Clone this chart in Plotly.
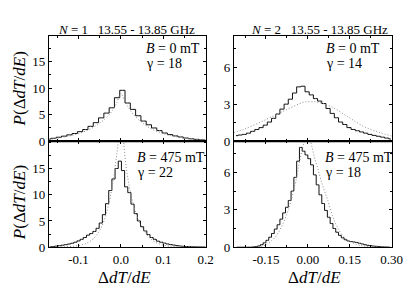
import plotly.graph_objects as go

FONT = "Liberation Serif"

# ---------------- data ----------------
# N=1, B=0 mT histogram (bin centres / values)
tl_x = [-0.1715, -0.159, -0.1465, -0.134, -0.1215, -0.109, -0.0965, -0.084, -0.0715, -0.059,
        -0.0465, -0.034, -0.0215, -0.009, 0.0035, 0.016, 0.0285, 0.041, 0.0535, 0.066,
        0.0785, 0.091, 0.1035, 0.116, 0.1285, 0.141, 0.1535, 0.166, 0.1785, 0.191, 0.2035]
tl_y = [0.4, 0.55, 0.75, 0.95, 1.2, 1.45, 1.8, 2.2, 2.8, 3.5,
        4.4, 5.3, 6.3, 8.2, 9.6, 7.2, 6.0, 4.8, 3.8, 3.1,
        2.5, 2.0, 1.55, 1.25, 1.0, 0.8, 0.6, 0.45, 0.35, 0.25, 0.2]
tl_fx = [-0.17, -0.15, -0.13, -0.11, -0.09, -0.07, -0.05, -0.03, -0.02, -0.01, 0.0,
         0.01, 0.02, 0.03, 0.05, 0.07, 0.09, 0.11, 0.13, 0.15, 0.17, 0.2]
tl_fy = [0.3, 0.55, 0.85, 1.2, 1.7, 2.4, 3.4, 4.8, 5.8, 7.2, 9.0,
         7.4, 6.1, 5.0, 3.5, 2.4, 1.7, 1.2, 0.85, 0.55, 0.4, 0.2]

# N=2, B=0 mT
tr_x = [-0.2575, -0.2425, -0.2275, -0.2125, -0.1975, -0.1825, -0.1675, -0.1525, -0.1375, -0.1225,
        -0.1075, -0.0925, -0.0775, -0.0625, -0.0475, -0.0325, -0.0175, -0.0025, 0.0125, 0.0275,
        0.0425, 0.0575, 0.0725, 0.0875, 0.1025, 0.1175, 0.1325, 0.1475, 0.1625, 0.1775,
        0.1925, 0.2075, 0.2225, 0.2375, 0.2525, 0.2675, 0.2825, 0.2975]
tr_y = [0.45, 0.5, 0.55, 0.65, 0.8, 0.95, 1.1, 1.3, 1.55, 1.85,
        2.2, 2.6, 3.0, 3.4, 3.9, 4.4, 4.45, 4.0, 3.75, 3.45,
        3.25, 3.05, 2.65, 2.25, 1.9, 1.55, 1.35, 1.1, 0.95, 0.85,
        0.75, 0.65, 0.55, 0.47, 0.4, 0.33, 0.25, 0.18]
tr_fx = [-0.265, -0.23, -0.16, -0.09, -0.015, 0.014, 0.037, 0.084, 0.142, 0.2, 0.258, 0.3]
tr_fy = [0.7, 0.95, 1.65, 2.4, 3.15, 3.2, 3.15, 2.8, 2.0, 1.2, 0.7, 0.42]

# N=1, B=475 mT
bl_x = [-0.1675, -0.16, -0.1525, -0.145, -0.1375, -0.13, -0.1225, -0.115, -0.1075, -0.1,
        -0.0925, -0.085, -0.0775, -0.07, -0.0625, -0.055, -0.0475, -0.04, -0.0325, -0.025,
        -0.0175, -0.01, -0.0025, 0.005, 0.0125, 0.02, 0.0275, 0.035, 0.0425, 0.05,
        0.0575, 0.065, 0.0725, 0.08, 0.0875, 0.095, 0.1025, 0.11, 0.1175, 0.125,
        0.1325, 0.14, 0.1475, 0.155, 0.1625, 0.17, 0.1775, 0.185, 0.1925, 0.2]
bl_y = [0.06, 0.12, 0.2, 0.28, 0.38, 0.48, 0.6, 0.75, 0.95, 1.2,
        1.5, 1.85, 2.3, 2.6, 3.0, 3.6, 4.6, 6.2, 8.3, 10.8,
        13.0, 15.0, 16.4, 14.6, 11.5, 10.4, 8.2, 6.4, 5.0, 3.9,
        3.1, 2.4, 1.85, 1.5, 1.15, 0.95, 0.78, 0.62, 0.5, 0.4,
        0.3, 0.22, 0.17, 0.13, 0.1, 0.08, 0.06, 0.05, 0.04, 0.03]
bl_fx = [-0.17, -0.13, -0.1, -0.08, -0.065, -0.05, -0.04, -0.03, -0.02, -0.01, -0.003, 0.0,
         0.005, 0.012, 0.02, 0.03, 0.04, 0.05, 0.065, 0.08, 0.1, 0.13, 0.2]
bl_fy = [0.02, 0.1, 0.3, 0.8, 1.6, 3.2, 5.0, 7.8, 11.8, 17.5, 22.0, 23.0,
         21.0, 15.5, 11.5, 8.0, 5.5, 3.8, 2.0, 1.0, 0.4, 0.12, 0.02]

# N=2, B=475 mT
br_x = [-0.255, -0.245, -0.235, -0.225, -0.215, -0.205, -0.195, -0.185, -0.175, -0.165,
        -0.155, -0.145, -0.135, -0.125, -0.115, -0.105, -0.095, -0.085, -0.075, -0.065,
        -0.055, -0.045, -0.035, -0.025, -0.015, -0.005, 0.005, 0.015, 0.025, 0.035,
        0.045, 0.055, 0.065, 0.075, 0.085, 0.095, 0.105, 0.115, 0.125, 0.135,
        0.145, 0.155, 0.165, 0.175, 0.185, 0.195, 0.205, 0.215, 0.225, 0.235,
        0.245, 0.255, 0.265, 0.275, 0.285, 0.295]
br_y = [0.0, 0.0, 0.0, 0.0, 0.0, 0.0, 0.02, 0.05, 0.1, 0.2,
        0.35, 0.55, 0.8, 1.1, 1.45, 1.8, 2.25, 2.75, 3.2, 3.75,
        4.5, 5.6, 6.9, 8.0, 7.7, 7.4, 7.1, 6.6, 5.8, 5.0,
        4.2, 3.5, 2.95, 2.4, 1.9, 1.5, 1.2, 0.95, 0.75, 0.6,
        0.5, 0.45, 0.42, 0.38, 0.32, 0.26, 0.2, 0.15, 0.12, 0.09,
        0.07, 0.05, 0.03, 0.02, 0.01, 0.0]
br_fx = [-0.2, -0.16, -0.14, -0.115, -0.092, -0.069, -0.045, -0.03, -0.015, -0.005,
         0.005, 0.013, 0.024, 0.036, 0.048, 0.06, 0.071, 0.088, 0.106, 0.129, 0.152, 0.186, 0.23, 0.3]
br_fy = [0.0, 0.1, 0.35, 0.85, 1.75, 3.05, 5.1, 6.8, 8.3, 9.0,
         8.9, 8.2, 7.2, 6.3, 5.3, 4.5, 3.8, 2.55, 1.6, 0.85, 0.45, 0.15, 0.03, 0.0]

# ---------------- figure ----------------
W, H = 415, 289
def px(x):
    return x / W
def py(y):
    return 1 - y / H

LX = [px(42), px(203)]
RX = [px(232), px(394)]
TOP = [py(137), py(29)]
BOT = [py(246), py(137)]

fig = go.Figure()

panels = [
    ("x2", "y2", tl_x, tl_y, tl_fx, tl_fy),
    ("x4", "y4", tr_x, tr_y, tr_fx, tr_fy),
    ("x", "y", bl_x, bl_y, bl_fx, bl_fy),
    ("x3", "y3", br_x, br_y, br_fx, br_fy),
]
for xa, ya, hx, hy, fx, fy in panels:
    fig.add_trace(go.Scatter(x=hx, y=hy, xaxis=xa, yaxis=ya, mode="lines",
                             line=dict(color="#111111", width=1, shape="hvh"),
                             hoverinfo="skip"))
    fig.add_trace(go.Scatter(x=fx, y=fy, xaxis=xa, yaxis=ya, mode="lines",
                             line=dict(color="#8c8c8c", width=1, dash="1px,2px", shape="spline"),
                             hoverinfo="skip"))

tickfont = dict(family=FONT, size=13, color="black")

def xax(domain, rng, vals, texts, mdt, m0, labels, anchor):
    return dict(domain=domain, range=rng, anchor=anchor, showline=True, linecolor="black",
                linewidth=1, mirror="allticks", ticks="inside", ticklen=3, tickcolor="black",
                tickmode="array", tickvals=vals, ticktext=texts, showgrid=False, zeroline=False,
                showticklabels=labels, tickfont=tickfont,
                minor=dict(ticks="inside", ticklen=2, tickcolor="black", dtick=mdt, tick0=m0,
                           showgrid=False))

def yax(domain, rng, vals, mdt, anchor):
    return dict(domain=domain, range=rng, anchor=anchor, showline=True, linecolor="black",
                linewidth=1, mirror="allticks", ticks="inside", ticklen=3, tickcolor="black",
                tickmode="array", tickvals=vals, ticktext=[str(v) for v in vals],
                showgrid=False, zeroline=False, tickfont=tickfont,
                minor=dict(ticks="inside", ticklen=2, tickcolor="black", dtick=mdt, tick0=0,
                           showgrid=False))

lx_vals = [-0.1, 0.0, 0.1, 0.2]
lx_text = ["-0.1", "0.0", "0.1", "0.2"]
rx_vals = [-0.15, 0.0, 0.15, 0.30]
rx_text = ["-0.15", "0.00", "0.15", "0.30"]

fig.update_layout(
    width=W, height=H, margin=dict(l=0, r=0, t=0, b=0),
    paper_bgcolor="white", plot_bgcolor="white", showlegend=False,
    font=dict(family=FONT, color="black"),
    xaxis=xax(LX, [-0.17, 0.2], lx_vals, lx_text, 0.05, 0, True, "y"),
    yaxis=yax(BOT, [0, 20.2], [0, 5, 10, 15], 2.5, "x"),
    xaxis2=xax(LX, [-0.17, 0.2], lx_vals, lx_text, 0.05, 0, False, "y2"),
    yaxis2=yax(TOP, [0, 19.8], [0, 5, 10, 15], 2.5, "x2"),
    xaxis3=xax(RX, [-0.265, 0.30], rx_vals, rx_text, 0.075, 0, True, "y3"),
    yaxis3=yax(BOT, [0, 8.5], [0, 3, 6], 1.5, "x3"),
    xaxis4=xax(RX, [-0.265, 0.30], rx_vals, rx_text, 0.075, 0, False, "y4"),
    yaxis4=yax(TOP, [0, 8.5], [0, 3, 6], 1.5, "x4"),
)

# thick divider between top and bottom panels
for dom in (LX, RX):
    fig.add_shape(type="line", xref="paper", yref="paper", x0=dom[0], x1=dom[1],
                  y0=py(137), y1=py(137), line=dict(color="black", width=2))

def ann(text, x, y, size, xanchor="left", yanchor="middle", angle=0):
    fig.add_annotation(text=text, x=px(x), y=py(y), xref="paper", yref="paper",
                       showarrow=False, xanchor=xanchor, yanchor=yanchor, textangle=angle,
                       font=dict(family=FONT, size=size, color="black"))

ann("<i>N</i> = 1   13.55 - 13.85 GHz", 122, 22, 13, "center")
ann("<i>N</i> = 2   13.55 - 13.85 GHz", 320, 22, 13, "center")

ann("<i>B</i> = 0 mT", 140, 42, 14)
ann("γ = 18", 140, 57, 14)
ann("<i>B</i> = 0 mT", 325, 42, 14)
ann("γ = 14", 325, 57, 14)
ann("<i>B</i> = 475 mT", 130, 154, 14)
ann("γ = 22", 130, 169, 14)
ann("<i>B</i> = 475 mT", 324, 154, 14)
ann("γ = 18", 324, 169, 14)

ann("<i>P</i>(Δ<i>dT</i>/<i>dE</i>)", 12, 83, 17, "center", "middle", -90)
ann("<i>P</i>(Δ<i>dT</i>/<i>dE</i>)", 12, 200, 17, "center", "middle", -90)
ann("Δ<i>dT</i>/<i>dE</i>", 120, 277, 17, "center")
ann("Δ<i>dT</i>/<i>dE</i>", 315, 277, 17, "center")

fig.write_html("out.html")
